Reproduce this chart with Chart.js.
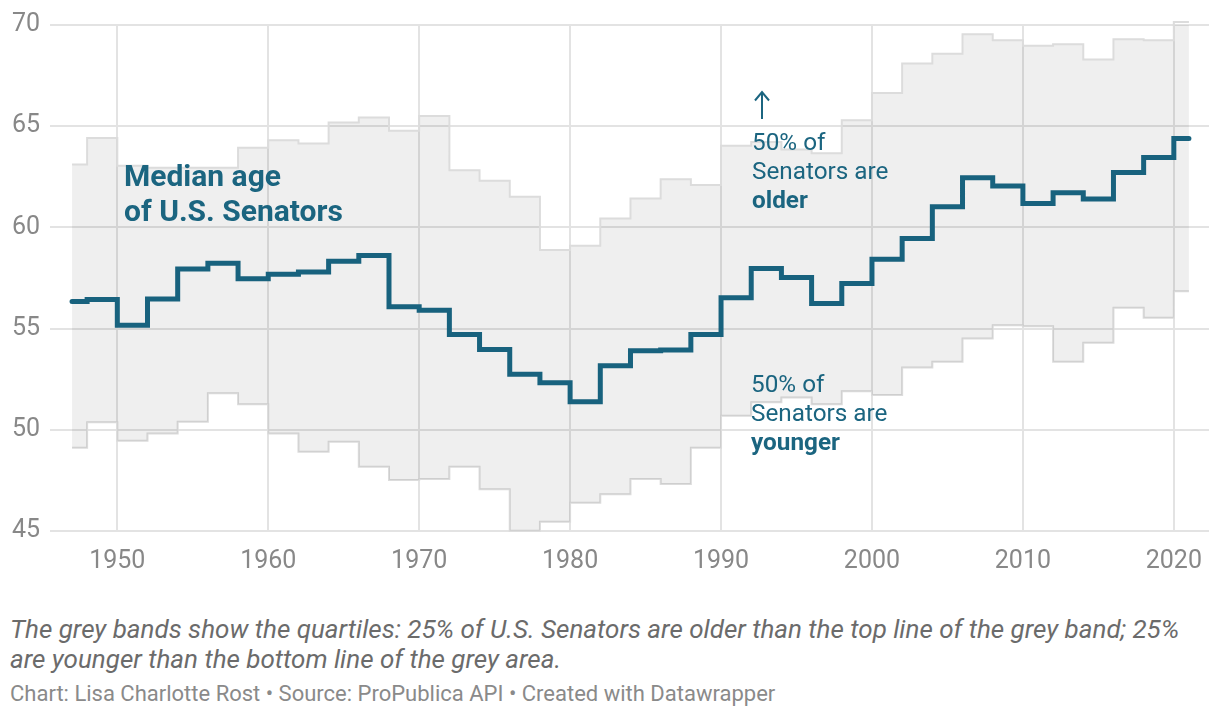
<!DOCTYPE html>
<html>
<head>
<meta charset="utf-8">
<script src="https://cdn.jsdelivr.net/npm/chart.js@4/dist/chart.umd.min.js"></script>
<style>
  html, body { margin: 0; padding: 0; background: #ffffff; }
  body { width: 1220px; height: 720px; position: relative; overflow: hidden; font-family: Roboto, "Noto Sans", sans-serif; }
  #wrap { position: absolute; left: 0; top: 0; width: 1220px; height: 585px; }
  .ann { position: absolute; color: #1b6580; white-space: nowrap; }
  .big { font-size: 30px; line-height: 35px; font-weight: 700; }
  .small { font-size: 24.3px; line-height: 29px; font-weight: 400; }
  .small b { font-weight: 700; }
  #caption { position: absolute; left: 10px; top: 614px; font-size: 26px; line-height: 30px; font-style: italic; color: #6b6b6b; white-space: nowrap; }
  #footer { position: absolute; left: 10px; top: 682px; font-size: 22px; line-height: 24px; color: #8a8a8a; white-space: nowrap; }
  #arrow { position: absolute; left: 750px; top: 86px; }
</style>
</head>
<body>
<div id="wrap"><canvas id="c" width="1220" height="585"></canvas></div>

<div class="ann big" style="left:124px; top:158px;">Median age<br>of U.S. Senators</div>
<svg id="arrow" width="24" height="40" viewBox="0 0 24 40">
  <line x1="12" y1="6" x2="12" y2="33" stroke="#1b6580" stroke-width="2"/>
  <polyline points="5,14.5 12,6 19,14.5" fill="none" stroke="#1b6580" stroke-width="2"/>
</svg>
<div class="ann small" style="left:752px; top:126.5px;">50% of<br>Senators are<br><b>older</b></div>
<div class="ann small" style="left:751px; top:369px;">50% of<br>Senators are<br><b>younger</b></div>

<div id="caption">The grey bands show the quartiles: 25% of U.S. Senators are older than the top line of the grey band; 25%<br>are younger than the bottom line of the grey area.</div>
<div id="footer">Chart: Lisa Charlotte Rost • Source: ProPublica API • Created with Datawrapper</div>

<script>
// Congress start years
const years = [1947, 1949, 1951, 1953, 1955, 1957, 1959, 1961, 1963, 1965,
               1967, 1969, 1971, 1973, 1975, 1977, 1979, 1981, 1983, 1985,
               1987, 1989, 1991, 1993, 1995, 1997, 1999, 2001, 2003, 2005,
               2007, 2009, 2011, 2013, 2015, 2017, 2019, 2021];

// Median age of U.S. Senators
const medianAge = [56.34, 56.44, 55.17, 56.46, 57.94, 58.23, 57.46, 57.69, 57.80, 58.33,
                   58.61, 56.08, 55.91, 54.71, 53.97, 52.74, 52.32, 51.39, 53.16, 53.90,
                   53.94, 54.71, 56.52, 57.97, 57.53, 56.24, 57.23, 58.43, 59.45, 61.02,
                   62.45, 62.05, 61.18, 61.71, 61.40, 62.71, 63.45, 64.39];

// Upper quartile (75th percentile)
const upperQuartile = [63.11, 64.42, 63.05, 62.95, 62.95, 62.95, 63.93, 64.31, 64.15, 65.18,
                       65.43, 64.77, 65.51, 62.82, 62.30, 61.51, 58.88, 59.09, 60.44, 61.43,
                       62.38, 62.09, 64.03, 64.22, 63.85, 63.66, 65.30, 66.64, 68.10, 68.58,
                       69.54, 69.25, 68.97, 69.05, 68.29, 69.30, 69.25, 70.15];

// Lower quartile (25th percentile)
const lowerQuartile = [49.11, 50.37, 49.46, 49.82, 50.40, 51.80, 51.26, 49.82, 48.92, 49.41,
                       48.18, 47.52, 47.57, 48.18, 47.06, 45.01, 45.46, 46.40, 46.81, 47.57,
                       47.32, 49.11, 50.69, 51.36, 51.60, 51.26, 51.91, 51.72, 53.08, 53.36,
                       54.51, 55.17, 55.12, 53.36, 54.30, 56.03, 55.53, 56.85];

const xTicks = [1950, 1960, 1970, 1980, 1990, 2000, 2010, 2020];
const yTicks = [45, 50, 55, 60, 65, 70];

const toPoints = arr => years.map((yr, i) => ({ x: yr, y: arr[i] }));

Chart.defaults.font.family = 'Roboto, "Noto Sans", sans-serif';

new Chart(document.getElementById('c'), {
  type: 'line',
  data: {
    datasets: [
      {
        label: 'Median age',
        data: toPoints(medianAge),
        stepped: 'middle',
        borderColor: '#18627e',
        borderWidth: 5,
        borderCapStyle: 'round',
        borderJoinStyle: 'miter',
        pointRadius: 0,
        fill: false,
        clip: false,
        order: 0
      },
      {
        label: 'Upper quartile',
        data: toPoints(upperQuartile),
        stepped: 'middle',
        borderColor: '#dcdcdc',
        borderWidth: 2,
        backgroundColor: 'rgba(0,0,0,0.062)',
        pointRadius: 0,
        fill: '+1',
        clip: false,
        order: 1
      },
      {
        label: 'Lower quartile',
        data: toPoints(lowerQuartile),
        stepped: 'middle',
        borderColor: '#dcdcdc',
        borderWidth: 2,
        pointRadius: 0,
        fill: false,
        clip: false,
        order: 2
      }
    ]
  },
  options: {
    responsive: false,
    animation: false,
    events: [],
    layout: { padding: { top: 25, right: 11, left: 0, bottom: 0 } },
    plugins: { legend: { display: false }, tooltip: { enabled: false } },
    scales: {
      x: {
        type: 'linear',
        min: 1945.54,
        max: 2022.33,
        afterBuildTicks: s => { s.ticks = xTicks.map(v => ({ value: v })); },
        afterFit: s => { s.height = 54; },
        grid: { color: '#e3e3e3', lineWidth: 2, drawTicks: false },
        border: { display: false },
        ticks: { color: '#888888', font: { size: 25 }, padding: 16, maxRotation: 0, autoSkip: false, callback: v => String(v) }
      },
      y: {
        min: 45,
        max: 70,
        afterBuildTicks: s => { s.ticks = yTicks.map(v => ({ value: v })); },
        afterFit: s => { s.width = 50; },
        grid: { color: '#e3e3e3', lineWidth: 2, drawTicks: false },
        border: { display: false },
        ticks: { color: '#888888', font: { size: 25 }, padding: 10, callback: v => String(v) }
      }
    }
  }
});
</script>
</body>
</html>
